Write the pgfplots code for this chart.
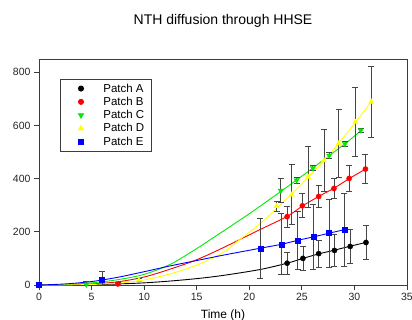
\documentclass[border=0pt]{standalone}
\usepackage{fontspec}
\setmainfont{Liberation Sans}
\usepackage{pgfplots}
\pgfplotsset{compat=1.18}
\definecolor{fr}{RGB}{60,60,60}
\definecolor{eb}{RGB}{70,70,70}
\definecolor{cA}{RGB}{0,0,0}
\definecolor{cB}{RGB}{255,0,0}
\definecolor{cC}{RGB}{0,235,0}
\definecolor{cD}{RGB}{255,255,0}
\definecolor{cE}{RGB}{0,0,255}
\pgfplotsset{myleg/.style={legend image code/.code={%
  \draw[##1] plot coordinates {(15bp,0bp)};
  \node[draw=none, fill=none, inner sep=0pt, minimum size=0pt] at (0bp,0bp) {};
  \node[draw=none, fill=none, inner sep=0pt, minimum size=0pt] at (32bp,0bp) {};}}}
\begin{document}
\begin{tikzpicture}
\begin{axis}[
  at={(0,0)}, anchor=south west,
  scale only axis, width=368bp, height=226bp,
  xmin=0, xmax=35, ymin=0, ymax=850,
  xtick={0,5,...,35}, ytick={0,200,...,800},
  xtick pos=bottom, ytick pos=left,
  tick align=outside, major tick length=5bp,
  tick style={draw=fr, line width=0.8bp},
  axis line style={draw=fr, line width=0.9bp},
  /pgf/number format/assume math mode=true,
  tick label style={font=\fontsize{10.5bp}{12bp}\selectfont, text=black!85},
  title={NTH diffusion through HHSE},
  title style={at={(0.5,1)}, anchor=center, yshift=32bp, font=\fontsize{14bp}{16bp}\selectfont},
  xlabel={Time (h)},
  xlabel style={at={(0.5,0)}, anchor=center, yshift=-30bp, font=\fontsize{12bp}{14bp}\selectfont},
  legend style={at={(21bp,209bp)}, anchor=north west, draw=fr, line width=0.8bp,
    inner xsep=6bp, inner ysep=3bp,
    font=\fontsize{11.5bp}{13bp}\selectfont,
    nodes={inner sep=1bp, text height=9bp, text depth=2bp},
    row sep=0.3bp, column sep=4bp},
  legend cell align=left,
  error bars/error bar style={draw=eb, line width=0.8bp},
  error bars/error mark options={rotate=90, mark size=3bp, draw=eb, line width=0.8bp},
]
% fitted curves
\addplot[cA, smooth, line width=0.9bp, forget plot] coordinates {(0,0)(5,1)(7.5,4)(10,8)(12.5,15)(15,24)(17.5,36)(21,58)(23.6,82)(25.1,100)(26.6,117)(28.1,131)(29.6,146)(31.1,160)};
\addplot[cB, smooth, line width=0.9bp, forget plot] coordinates {(0,0)(2.5,1)(5,4)(7.5,12)(10,30)(12.5,60)(15,95)(17.5,140)(21,208)(23.6,258)(25.05,297)(26.6,333)(28.05,364)(29.5,400)(31.05,436)};
\addplot[cC, smooth, line width=0.9bp, forget plot] coordinates {(0,0)(2.5,2)(5,8)(7.5,20)(10,40)(12.5,78)(15,137)(17.5,202)(20,268)(23,352)(24.5,395)(26.05,440)(27.6,487)(29.1,531)(30.6,580)};
\addplot[cD, smooth, line width=0.9bp, forget plot] coordinates {(0,0)(2.5,0.5)(5,2)(7.5,7)(10,19)(12.5,42)(15,75)(17.5,122)(19,168)(21,230)(22.6,288)(24.05,343)(25.6,405)(27.1,468)(28.5,532)(30.1,612)(31.6,689)};
\addplot[cE, smooth, line width=0.9bp, forget plot] coordinates {(0,0)(2.5,4)(5,13)(7.5,29)(10,50)(12.5,72)(15,92)(17.5,112)(21,138)(23.05,153)(24.6,168)(26.1,181)(27.6,195)(29.05,208)};
% data with error bars
\addplot[only marks, myleg, mark=*, mark size=2.6bp, mark options={draw=cA, fill=cA},
  error bars/.cd, y dir=both, y explicit] coordinates {
  (0,0) +- (0,0)
  (23.6,82) +- (0,41)
  (25.1,100) +- (0,44)
  (26.6,118) +- (0,50)
  (28.1,130) +- (0,60)
  (29.6,145) +- (0,65)
  (31.1,160) +- (0,63)
};
\addlegendentry{Patch A}
\addplot[only marks, myleg, mark=*, mark size=2.6bp, mark options={draw=cB, fill=cB},
  error bars/.cd, y dir=both, y explicit] coordinates {
  (0,0) +- (0,0)
  (7.5,4) +- (0,4)
  (23.6,257) +- (0,40)
  (25.05,298) +- (0,45)
  (26.6,333) +- (0,41)
  (28.05,363) +- (0,38)
  (29.5,401) +- (0,50)
  (31.05,436) +- (0,55)
};
\addlegendentry{Patch B}
\addplot[only marks, myleg, mark=triangle*, mark size=3bp, mark options={draw=cC, fill=cC, rotate=180},
  error bars/.cd, y dir=both, y explicit] coordinates {
  (0,0) +- (0,0)
  (4.5,2) +- (0,12)
  (23,355) +- (0,45)
  (24.5,394) +- (0,10)
  (26.05,440) +- (0,10)
  (27.6,487) +- (0,10)
  (29.1,531) +- (0,10)
  (30.6,582) +- (0,8)
};
\addlegendentry{Patch C}
\addplot[only marks, myleg, mark=triangle*, mark size=3bp, mark options={draw=cD, fill=cD},
  error bars/.cd, y dir=both, y explicit] coordinates {
  (0,0) +- (0,0)
  (9.5,18) +- (0,6)
  (22.6,296) +- (0,20)
  (24.05,340) +- (0,113)
  (25.6,406) +- (0,116)
  (27.1,469) +- (0,118)
  (28.5,532) +- (0,127)
  (30.1,613) +- (0,129)
  (31.6,689) +- (0,133)
};
\addlegendentry{Patch D}
\addplot[only marks, myleg, mark=square*, mark size=2.5bp, mark options={draw=cE, fill=cE},
  error bars/.cd, y dir=both, y explicit] coordinates {
  (0,0) +- (0,0)
  (6,20) +- (0,30)
  (21.05,138) +- (0,113)
  (23.05,153) +- (0,115)
  (24.6,168) +- (0,110)
  (26.1,181) +- (0,122)
  (27.6,195) +- (0,128)
  (29.05,208) +- (0,138)
};
\addlegendentry{Patch E}
\end{axis}
\pgfresetboundingbox
\path (-39bp,-35bp) rectangle (373bp,285bp);
\end{tikzpicture}
\end{document}
